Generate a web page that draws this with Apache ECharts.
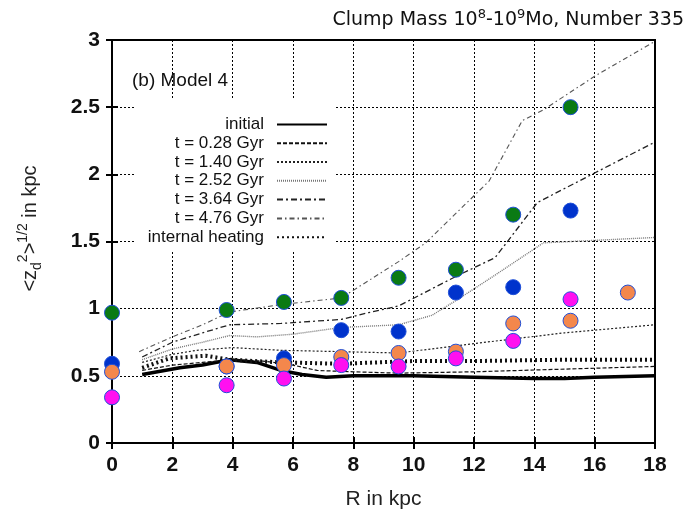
<!DOCTYPE html>
<html>
<head>
<meta charset="utf-8">
<script src="https://cdn.jsdelivr.net/npm/echarts@6/dist/echarts.min.js"></script>
<style>
  html, body { margin: 0; padding: 0; background: #fff; }
  #chart { width: 691px; height: 520px; }
</style>
</head>
<body>
<div id="chart"></div>
<script>
// radii of the measured points
const pointR = [0, 3.8, 5.7, 7.6, 9.5, 11.4, 13.3, 15.2, 17.1]
const greenPts = [0.97, 0.99, 1.05, 1.08, 1.23, 1.29, 1.70, 2.50, null]
const bluePts = [0.59, 0.57, 0.63, 0.84, 0.83, 1.12, 1.16, 1.73, null]
const orangePts = [0.53, 0.57, 0.58, 0.64, 0.67, 0.68, 0.89, 0.91, 1.12]
const magentaPts = [0.34, 0.43, 0.48, 0.58, 0.57, 0.63, 0.76, 1.07, null]

// profiles
const initialR = [1, 2.25, 3, 3.9, 4.8, 5.6, 6.3, 7.1, 8, 10, 12, 14, 15, 16, 18]
const initialZ = [0.51, 0.56, 0.58, 0.62, 0.6, 0.54, 0.51, 0.49, 0.5, 0.5, 0.49, 0.48, 0.48, 0.49, 0.5]
const t028R = [1, 2, 3, 4, 5, 6, 6.8, 8, 9.5, 12, 15, 18]
const t028Z = [0.54, 0.58, 0.6, 0.62, 0.61, 0.58, 0.54, 0.53, 0.52, 0.53, 0.55, 0.57]
const t140R = [1, 2, 2.8, 4, 5.6, 7.6, 9.5, 12, 15, 18]
const t140Z = [0.6, 0.66, 0.69, 0.71, 0.69, 0.68, 0.67, 0.74, 0.82, 0.88]
const t252R = [1, 2, 3, 3.9, 4.8, 6, 7.6, 9.5, 10.6, 11.4, 12.7, 14.3, 18]
const t252Z = [0.62, 0.7, 0.75, 0.8, 0.79, 0.81, 0.86, 0.88, 0.95, 1.06, 1.25, 1.49, 1.53]
const t364R = [1, 2, 3, 3.9, 5.6, 7.6, 8.5, 9.5, 11.4, 12.7, 14.1, 16, 18]
const t364Z = [0.64, 0.75, 0.82, 0.88, 0.89, 0.92, 0.97, 1.02, 1.24, 1.38, 1.79, 2.01, 2.24]
const t476R = [0.9, 2, 3, 3.9, 5.6, 7.6, 9.5, 10.4, 12.5, 13.6, 14.3, 16, 18]
const t476Z = [0.68, 0.79, 0.88, 0.975, 1.03, 1.08, 1.35, 1.49, 1.95, 2.4, 2.48, 2.73, 2.99]
const heatR = [1, 1.9, 3.1, 3.9, 5.6, 7.6, 10, 12, 15, 18]
const heatZ = [0.56, 0.63, 0.65, 0.62, 0.6, 0.59, 0.61, 0.61, 0.62, 0.62]

const pair = (xs, ys) => xs.map((x, i) => [x, ys[i]]).filter(p => p[1] != null)

const font = "'Liberation Sans', Arial, sans-serif"

function lineSeries(name, xs, ys, style) {
  return {
    name: name,
    type: "line",
    symbol: "none",
    silent: true,
    z: 2,
    lineStyle: style,
    itemStyle: { color: style.color },
    data: pair(xs, ys)
  }
}

function dotSeries(name, ys, color) {
  return {
    name: name,
    type: "scatter",
    symbolSize: 15,
    z: 5,
    itemStyle: { color: color, borderColor: "#1f4fd8", borderWidth: 1, opacity: 1 },
    data: pair(pointR, ys)
  }
}

let option = {
  animation: false,
  backgroundColor: "#fff",
  title: [
    {
      text: "Clump Mass 10{sup|8}-10{sup|9}Mo, Number 335",
      right: 2,
      top: 3,
      textStyle: {
        fontFamily: "'DejaVu Sans', sans-serif",
        fontSize: 19,
        fontWeight: "normal",
        color: "#111",
        lineHeight: 24,
        rich: {
          sup: { fontFamily: "'DejaVu Sans', sans-serif", fontSize: 13, verticalAlign: "top", lineHeight: 14, color: "#111" }
        }
      }
    },
    {
      text: "(b) Model 4",
      left: 127,
      top: 66,
      textStyle: { fontFamily: font, fontSize: 19, fontWeight: "normal", color: "#111" }
    }
  ],
  legend: {
    orient: "vertical",
    right: 355,
    top: 100,
    padding: [15, 8, 4, 13],
    backgroundColor: "#fff",
    align: "right",
    itemWidth: 50,
    itemHeight: 12,
    itemGap: 0,
    selectedMode: false,
    itemStyle: { opacity: 0 },
    data: ["initial", "t = 0.28 Gyr", "t = 1.40 Gyr", "t = 2.52 Gyr", "t = 3.64 Gyr", "t = 4.76 Gyr", "internal heating"],
    textStyle: { fontFamily: font, fontSize: 17, color: "#111", lineHeight: 18.8, padding: [0, 8, 0, 0] }
  },
  grid: {
    left: 112,
    right: 36,
    top: 40,
    bottom: 77,
    show: true,
    borderColor: "#000",
    borderWidth: 2
  },
  xAxis: [
    {
      type: "value",
      min: 0,
      max: 18,
      interval: 2,
      name: "R in kpc",
      nameLocation: "middle",
      nameGap: 46,
      nameTextStyle: { fontFamily: font, fontSize: 21, color: "#222" },
      axisLine: { show: true, lineStyle: { color: "#000", width: 2 } },
      axisTick: { show: true, inside: true, length: 6, lineStyle: { color: "#000", width: 2 } },
      axisLabel: { fontFamily: font, fontSize: 21, fontWeight: "bold", color: "#111", margin: 12 },
      splitLine: { show: true, lineStyle: { color: "#000", type: [2, 2], width: 1 } }
    },
    {
      type: "value",
      position: "top",
      min: 0,
      max: 18,
      interval: 2,
      axisLine: { show: false },
      axisTick: { show: true, inside: true, length: 6, lineStyle: { color: "#000", width: 2 } },
      axisLabel: { show: false },
      splitLine: { show: false }
    }
  ],
  yAxis: [
    {
      type: "value",
      min: 0,
      max: 3,
      interval: 0.5,
      name: "<z{sub|d}{sup|2}>{sup|1/2} in kpc",
      nameLocation: "middle",
      nameRotate: 90,
      nameGap: 68,
      nameTextStyle: {
        fontFamily: font,
        fontSize: 20,
        color: "#222",
        lineHeight: 28,
        padding: [0, 0, 0, 26],
        rich: {
          sub: { fontFamily: font, fontSize: 14, verticalAlign: "bottom", lineHeight: 14, color: "#222" },
          sup: { fontFamily: font, fontSize: 14, verticalAlign: "top", lineHeight: 14, color: "#222" }
        }
      },
      axisLine: { show: true, lineStyle: { color: "#000", width: 2 } },
      axisTick: { show: true, inside: true, length: 6, lineStyle: { color: "#000", width: 2 } },
      axisLabel: { fontFamily: font, fontSize: 21, fontWeight: "bold", color: "#111", margin: 12 },
      splitLine: { show: true, lineStyle: { color: "#000", type: [2, 2], width: 1 } }
    },
    {
      type: "value",
      position: "right",
      min: 0,
      max: 3,
      interval: 0.5,
      axisLine: { show: false },
      axisTick: { show: true, inside: true, length: 6, lineStyle: { color: "#000", width: 2 } },
      axisLabel: { show: false },
      splitLine: { show: false }
    }
  ],
  series: [
    lineSeries("initial", initialR, initialZ, { color: "#000", width: 3.5, type: "solid" }),
    lineSeries("t = 0.28 Gyr", t028R, t028Z, { color: "#111", width: 1.2, type: [4, 2] }),
    lineSeries("t = 1.40 Gyr", t140R, t140Z, { color: "#222", width: 1.2, type: [2, 2] }),
    lineSeries("t = 2.52 Gyr", t252R, t252Z, { color: "#777", width: 1.4, type: [1, 1] }),
    lineSeries("t = 3.64 Gyr", t364R, t364Z, { color: "#222", width: 1.3, type: [6, 3, 2, 3] }),
    lineSeries("t = 4.76 Gyr", t476R, t476Z, { color: "#555", width: 1.1, type: [5, 3, 1.5, 3] }),
    lineSeries("internal heating", heatR, heatZ, { color: "#111", width: 4, type: [2, 3] }),
    dotSeries("blue", bluePts, "#0033cc"),
    dotSeries("green", greenPts, "#0a7a14"),
    dotSeries("orange", orangePts, "#f4874c"),
    dotSeries("magenta", magentaPts, "#ff10f0")
  ]
}

let chartEl = echarts.init(document.getElementById("chart"))
chartEl.setOption(option)
window.addEventListener("resize", () => chartEl.resize())
</script>
</body>
</html>
